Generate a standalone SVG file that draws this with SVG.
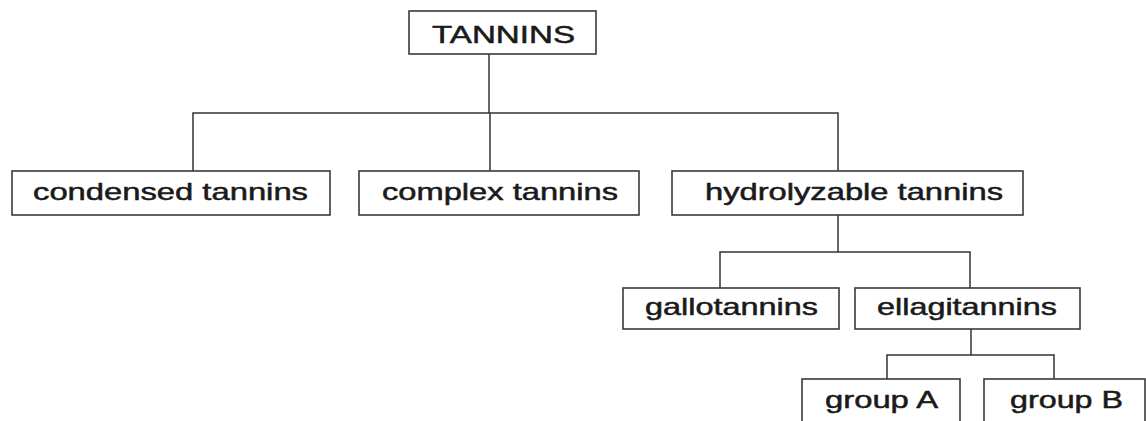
<svg xmlns="http://www.w3.org/2000/svg" width="1146" height="421" viewBox="0 0 1146 421">
<style>
.box{fill:#fff;stroke:#3a3a3a;stroke-width:1.6}
.lbl{font-family:"Liberation Sans",Arial,sans-serif;font-size:24px;fill:#1a1a1a;stroke:#1a1a1a;stroke-width:0.5}
.conn{fill:none;stroke:#333;stroke-width:1.5}
</style>
<rect width="1146" height="421" fill="#fff"/>
<g id="connectors" class="conn">
<path d="M489 54V113"/>
<path d="M193 171V113H838V171"/>
<path d="M490 113V171"/>
<path d="M838 215V252"/>
<path d="M720 288V252H970V288"/>
<path d="M971 329V355"/>
<path d="M887 379V355H1054V379"/>
</g>
<g id="tannins"><rect class="box" x="409" y="11" width="187" height="43"/><text class="lbl" x="432" y="43" textLength="143" lengthAdjust="spacingAndGlyphs">TANNINS</text></g>
<g id="condensed"><rect class="box" x="12" y="171" width="318" height="44"/><text class="lbl" x="33" y="200" textLength="275" lengthAdjust="spacingAndGlyphs">condensed tannins</text></g>
<g id="complex"><rect class="box" x="359" y="171" width="280" height="44"/><text class="lbl" x="382" y="200" textLength="236" lengthAdjust="spacingAndGlyphs">complex tannins</text></g>
<g id="hydrolyzable"><rect class="box" x="672" y="171" width="351" height="44"/><text class="lbl" x="705" y="200" textLength="298" lengthAdjust="spacingAndGlyphs">hydrolyzable tannins</text></g>
<g id="gallotannins"><rect class="box" x="623" y="288" width="216" height="41"/><text class="lbl" x="645" y="315" textLength="173" lengthAdjust="spacingAndGlyphs">gallotannins</text></g>
<g id="ellagitannins"><rect class="box" x="855" y="288" width="225" height="41"/><text class="lbl" x="877" y="315" textLength="180" lengthAdjust="spacingAndGlyphs">ellagitannins</text></g>
<g id="groupA"><rect class="box" x="802" y="379" width="158" height="60"/><text class="lbl" x="825" y="408" textLength="113" lengthAdjust="spacingAndGlyphs">group A</text></g>
<g id="groupB"><rect class="box" x="984" y="379" width="161" height="60"/><text class="lbl" x="1010" y="408" textLength="113" lengthAdjust="spacingAndGlyphs">group B</text></g>
</svg>
